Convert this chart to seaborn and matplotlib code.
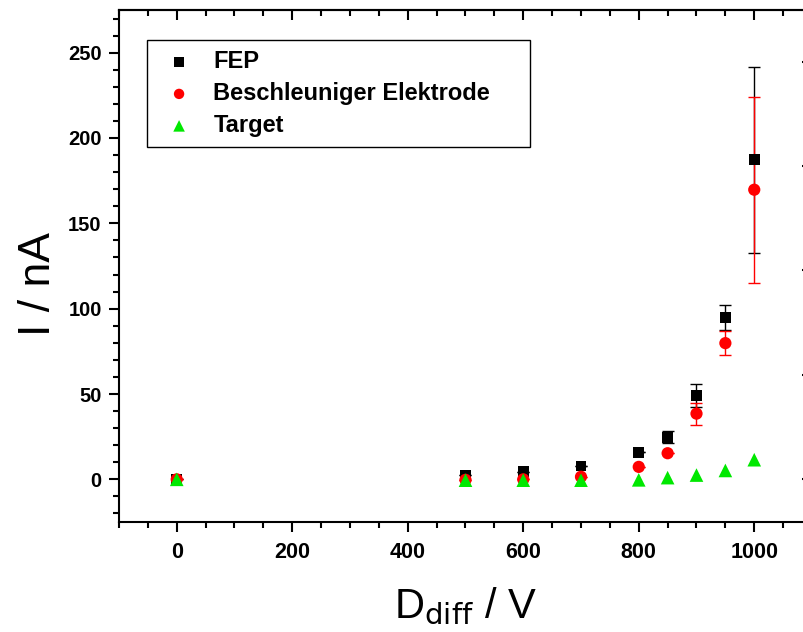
import matplotlib
matplotlib.use("Agg")
import matplotlib.pyplot as plt
import seaborn as sns
import pandas as pd
import numpy as np
from matplotlib.ticker import MultipleLocator

# ---- data ----
voltage = [0, 500, 600, 700, 800, 850, 900, 950, 1000]
fep = [0.0, 2.5, 4.5, 7.8, 15.9, 24.7, 49.2, 94.8, 187.2]
fep_err = [0, 0, 0, 0, 0, 3.5, 6.6, 7.1, 54.5]
beschl = [0.0, -0.3, 0.0, 1.5, 7.3, 15.3, 38.5, 79.8, 169.7]
beschl_err = [0, 0, 0, 0, 0, 0, 6.4, 7.1, 54.4]
target = [0.0, -0.5, -0.5, -0.5, -0.3, 1.0, 2.5, 5.2, 11.5]
series_names = ["FEP", "Beschleuniger Elektrode", "Target"]
right_ticks = [0, 61.2, 122.4, 183.6, 244.8]

sns.set_theme(style="ticks")
plt.rcParams['font.family'] = ['Liberation Sans', 'DejaVu Sans']
for k in ["text.color", "axes.labelcolor", "xtick.color", "ytick.color", "axes.edgecolor"]:
    plt.rcParams[k] = "black"

df = pd.DataFrame({
    "U": voltage * 3,
    "I": fep + beschl + target,
    "Serie": [series_names[0]] * len(voltage) + [series_names[1]] * len(voltage) + [series_names[2]] * len(voltage),
})

W, H = 804, 632
fig = plt.figure(figsize=(W / 100, H / 100), dpi=100)
ax = fig.add_axes([119 / W, 1 - 522 / H, 693 / W, 512 / H])

palette = {series_names[0]: "black", series_names[1]: "#ff0000", series_names[2]: "#00e800"}
markers = {series_names[0]: "s", series_names[1]: "o", series_names[2]: "^"}
sizes_pt = {series_names[0]: 7.8, series_names[1]: 8.8, series_names[2]: 9.8}

ax.errorbar(voltage, fep, yerr=fep_err, fmt="none", ecolor="black", elinewidth=1.0, capsize=4, capthick=1.0, zorder=1)
ax.errorbar(voltage, beschl, yerr=beschl_err, fmt="none", ecolor="#ff0000", elinewidth=1.0, capsize=4, capthick=1.0, zorder=1.5)

for name in series_names:
    sub = df[df["Serie"] == name]
    sns.scatterplot(data=sub, x="U", y="I", marker=markers[name], color=palette[name],
                    s=sizes_pt[name] ** 2, edgecolor="none", linewidth=0, ax=ax,
                    label=name, zorder=3, legend=True)

ax.set_xlim(-100, 1100)
ax.set_ylim(-25, 275)
ax.xaxis.set_major_locator(MultipleLocator(200))
ax.xaxis.set_minor_locator(MultipleLocator(50))
ax.yaxis.set_major_locator(MultipleLocator(50))
ax.yaxis.set_minor_locator(MultipleLocator(10))

for s in ax.spines.values():
    s.set_linewidth(1.5)
    s.set_color("black")

ax.tick_params(axis="both", which="major", direction="out", length=7.5, width=1.5, color="black",
               labelcolor="black")
ax.tick_params(axis="both", which="minor", direction="out", length=4, width=1.5, color="black")
ax.tick_params(axis="y", which="major", labelsize=14.5, pad=5)
ax.tick_params(axis="x", which="major", labelsize=15.5, pad=7)
for lab in ax.get_xticklabels() + ax.get_yticklabels():
    lab.set_fontweight("bold")

# top ticks inward
secx = ax.secondary_xaxis("top")
secx.xaxis.set_major_locator(MultipleLocator(200))
secx.xaxis.set_minor_locator(MultipleLocator(50))
secx.tick_params(axis="x", which="major", direction="in", length=7.5, width=1.5, labeltop=False, color="black")
secx.tick_params(axis="x", which="minor", direction="in", length=4, width=1.5, color="black")
secx.spines["top"].set_linewidth(1.5)

secy = ax.secondary_yaxis("right")
secy.set_yticks(right_ticks)
secy.tick_params(axis="y", which="major", direction="in", length=7.5, width=1.5, labelright=False, color="black")
secy.yaxis.set_minor_locator(plt.NullLocator())

ax.set_xlabel(r"D$_{\mathrm{diff}}$ / V", fontsize=30, color="black")
ax.set_ylabel("I / nA", fontsize=32, color="black")
ax.xaxis.set_label_coords(0.5, -0.125)
ax.yaxis.set_label_coords(-0.086, 0.465)

handles, labels = ax.get_legend_handles_labels()
leg = ax.legend(handles, labels, loc="upper left", bbox_to_anchor=(0.040, 0.736, 0.553, 0.205),
                mode="expand", borderaxespad=0,
                frameon=True, fancybox=False, edgecolor="black", framealpha=1,
                prop={"family": ["Liberation Sans", "DejaVu Sans"], "weight": "bold", "size": 17},
                handletextpad=0.5, labelspacing=0.38, borderpad=0.42, handlelength=1.9,
                markerscale=0.85, labelcolor="black")
leg.get_frame().set_linewidth(1.0)

fig.savefig("out.png", dpi=100)
